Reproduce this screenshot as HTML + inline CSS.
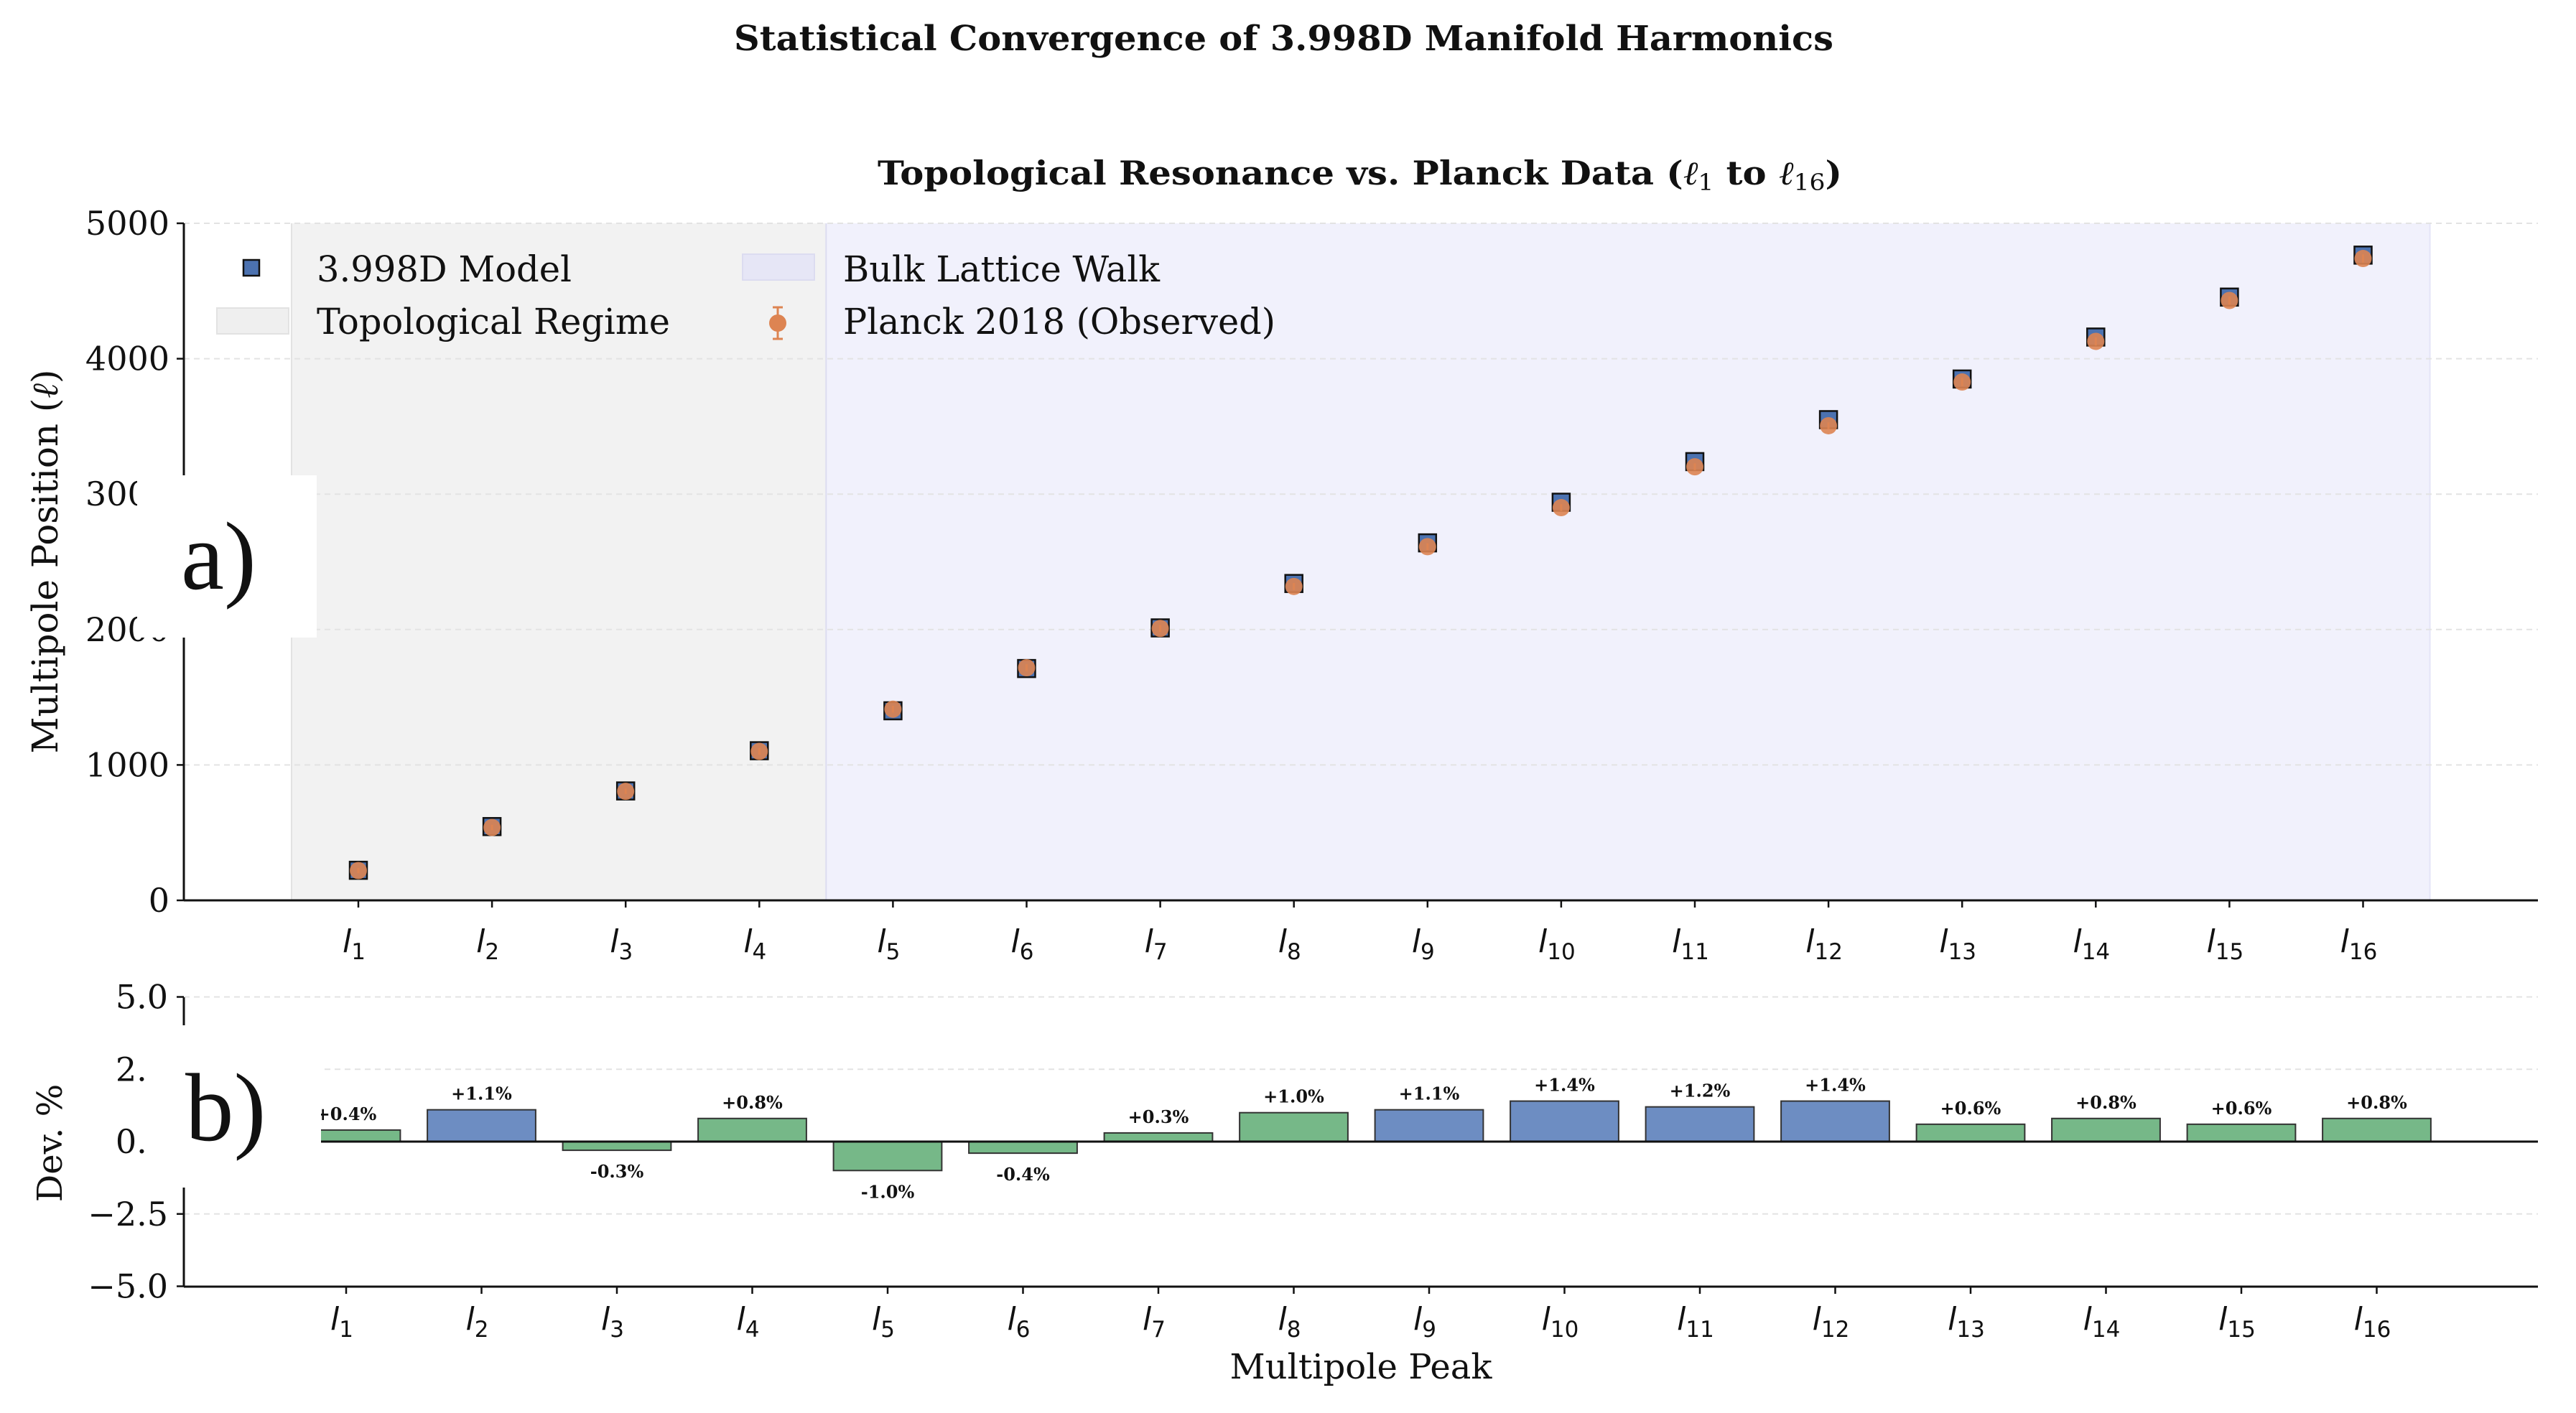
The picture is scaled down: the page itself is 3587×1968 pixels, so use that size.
<!DOCTYPE html>
<html><head><meta charset="utf-8"><style>
html,body{margin:0;padding:0;background:#fff}
svg{display:block}
text{font-family:"DejaVu Serif","Liberation Serif",serif;fill:#111}
</style></head><body>
<svg id="chart" xmlns="http://www.w3.org/2000/svg" width="3587" height="1968" viewBox="0 0 3587 1968">
<rect width="3587" height="1968" fill="#fff"/>
<text x="1022" y="70" font-size="48" font-weight="bold" textLength="1531" lengthAdjust="spacingAndGlyphs">Statistical Convergence of 3.998D Manifold Harmonics</text>
<text x="1222" y="257" font-size="46" font-weight="bold" textLength="1343" lengthAdjust="spacingAndGlyphs">Topological Resonance vs. Planck Data (<tspan font-style="italic" font-weight="normal">ℓ</tspan><tspan font-size="32" dy="8" font-weight="normal">1</tspan><tspan dy="-8"> to </tspan><tspan font-style="italic" font-weight="normal">ℓ</tspan><tspan font-size="32" dy="8" font-weight="normal">16</tspan><tspan dy="-8">)</tspan></text>
<g id="topPanel"></g>
<g id="bottomPanel"></g>
</svg>
<script>
const categories=["1","2","3","4","5","6","7","8","9","10","11","12","13","14","15","16"];
const modelValues=[222,545,808,1105,1400,1712,2012,2340,2640,2940,3240,3550,3850,4160,4455,4765];
const planckValues=[220,538,805,1100,1412,1718,2008,2318,2612,2900,3202,3505,3828,4128,4430,4740];
const planckErrors=[20,20,20,25,25,25,25,25,25,25,25,25,30,30,30,30];
const topYTicks=[0,1000,2000,3000,4000,5000];
const deviations=[0.4,1.1,-0.3,0.8,-1.0,-0.4,0.3,1.0,1.1,1.4,1.2,1.4,0.6,0.8,0.6,0.8];
const devLabels=["+0.4%","+1.1%","-0.3%","+0.8%","-1.0%","-0.4%","+0.3%","+1.0%","+1.1%","+1.4%","+1.2%","+1.4%","+0.6%","+0.8%","+0.6%","+0.8%"];
const bottomYTicks=[-5,-2.5,0,2.5,5];
const bottomYTickLabels=["\u22125.0","\u22122.5","0.0","2.5","5.0"];

const NS="http://www.w3.org/2000/svg";
function mk(parent,tag,attrs,text){const e=document.createElementNS(NS,tag);for(const k in attrs)e.setAttribute(k,attrs[k]);if(text!==undefined)e.textContent=text;parent.appendChild(e);return e;}
const SANS='font-family:"DejaVu Sans",sans-serif';
const TIMES='font-family:"Liberation Serif",serif';

const L=256,R=3534,T0=311,B0=1254;
const xT=i=>499+i*186.1;
const yT=v=>B0-(v/5000)*(B0-T0);
const topG=document.getElementById('topPanel');
let r=mk(topG,'rect',{x:xT(-0.5),y:T0,width:xT(3.5)-xT(-0.5),height:B0-T0,fill:'#f2f2f2'});


r=mk(topG,'rect',{x:xT(3.5),y:T0,width:xT(15.5)-xT(3.5),height:B0-T0,fill:'#f1f1fc'});


mk(topG,'line',{x1:xT(-0.5),x2:xT(-0.5),y1:T0,y2:B0,stroke:'#e2e2e2','stroke-width':2});
mk(topG,'line',{x1:xT(3.5),x2:xT(3.5),y1:T0,y2:B0,stroke:'#dcdcf0','stroke-width':2});
mk(topG,'line',{x1:xT(15.5),x2:xT(15.5),y1:T0,y2:B0,stroke:'#e4e4f7','stroke-width':2});
topYTicks.forEach(v=>{
  const y=yT(v);
  if(v>0){const g=mk(topG,'line',{x1:L,x2:R,y1:y,y2:y,stroke:'#e3e3e3','stroke-width':2,'stroke-dasharray':'8 6'});
  
  }
  mk(topG,'line',{x1:L-10,x2:L,y1:y,y2:y,stroke:'#111','stroke-width':2.5});
  const t=mk(topG,'text',{x:L-20,y:y+16,'font-size':46,'text-anchor':'end'},String(v));
  
  
});
mk(topG,'line',{x1:L,x2:L,y1:T0,y2:B0,stroke:'#111','stroke-width':3});
mk(topG,'line',{x1:L,x2:R,y1:B0,y2:B0,stroke:'#111','stroke-width':3});
categories.forEach((c,i)=>{
  const x=xT(i);
  mk(topG,'line',{x1:x,x2:x,y1:B0,y2:B0+10,stroke:'#111','stroke-width':2.5});
  const t=mk(topG,'text',{x:x-6,y:B0+72,'font-size':44,'text-anchor':'middle',style:SANS});
  
  
  mk(t,'tspan',{'font-style':'italic'},'l');mk(t,'tspan',{'font-size':31,dy:10},c);
});
modelValues.forEach((v,i)=>{
  const s=mk(topG,'rect',{x:xT(i)-12,y:yT(v)-12,width:24,height:24,fill:'#4c72b0',stroke:'#111','stroke-width':2.5});
  
  
});
planckValues.forEach((v,i)=>{
  const x=xT(i);
  mk(topG,'line',{x1:x,x2:x,y1:yT(v+planckErrors[i]),y2:yT(v-planckErrors[i]),stroke:'#dd8452','stroke-width':3});
  const c=mk(topG,'circle',{cx:x,cy:yT(v),r:12,fill:'#dd8452','fill-opacity':0.9});
  
  
});
const lg=mk(topG,'g',{});


mk(lg,'rect',{x:339,y:362,width:22,height:22,fill:'#4c72b0',stroke:'#111','stroke-width':2.5});
mk(lg,'text',{x:441,y:392,'font-size':50,textLength:355,lengthAdjust:'spacingAndGlyphs'},'3.998D Model');
mk(lg,'rect',{x:302,y:429,width:100,height:36,fill:'#efefef',stroke:'#e2e2e2','stroke-width':2});
mk(lg,'text',{x:441,y:465,'font-size':50,textLength:492,lengthAdjust:'spacingAndGlyphs'},'Topological Regime');
mk(lg,'rect',{x:1034,y:354,width:100,height:36,fill:'#e6e6f6',stroke:'#dcdcf0','stroke-width':2});
mk(lg,'text',{x:1174,y:392,'font-size':50,textLength:441,lengthAdjust:'spacingAndGlyphs'},'Bulk Lattice Walk');
mk(lg,'line',{x1:1083,x2:1083,y1:428,y2:472,stroke:'#dd8452','stroke-width':3});
mk(lg,'line',{x1:1076,x2:1090,y1:428,y2:428,stroke:'#dd8452','stroke-width':3});
mk(lg,'line',{x1:1076,x2:1090,y1:472,y2:472,stroke:'#dd8452','stroke-width':3});
mk(lg,'circle',{cx:1083,cy:450,r:12,fill:'#dd8452'});
mk(lg,'text',{x:1174,y:465,'font-size':50,textLength:602,lengthAdjust:'spacingAndGlyphs'},'Planck 2018 (Observed)');
let yl=mk(topG,'text',{x:0,y:0,'font-size':50,'text-anchor':'middle',transform:'translate(80,782) rotate(-90)',textLength:535,lengthAdjust:'spacingAndGlyphs'},'Multipole Position (');
mk(yl,'tspan',{'font-style':'italic'},'ℓ');mk(yl,'tspan',{},')');



const T1=1389,B1=1792;
const xB=i=>482+i*188.5;
const yB=v=>1590-v*(B1-T1)/10;
const botG=document.getElementById('bottomPanel');
bottomYTicks.forEach((v,k)=>{
  const y=yB(v);
  if(v!==0&&v!==-5){const g=mk(botG,'line',{x1:L,x2:R,y1:y,y2:y,stroke:'#e3e3e3','stroke-width':2,'stroke-dasharray':'8 6'});
  
  }
  mk(botG,'line',{x1:L-10,x2:L,y1:y,y2:y,stroke:'#111','stroke-width':2.5});
  const t=mk(botG,'text',{x:L-22,y:y+16,'font-size':46,'text-anchor':'end'},bottomYTickLabels[k]);
  
  
});
deviations.forEach((d,i)=>{
  const x=xB(i),w=0.8*188.5;
  const y0=yB(0),y1=yB(d);
  const b=mk(botG,'rect',{x:x-w/2,y:Math.min(y0,y1),width:w,height:Math.abs(y1-y0),fill:Math.abs(d)>1.05?'#6d8dc2':'#76b888',stroke:'#333','stroke-width':2});
  
  
  const t=mk(botG,'text',{x:x,y:d>=0?y1-14:y1+38,'font-size':24,'font-weight':'bold','text-anchor':'middle'},devLabels[i]);
  
  
});
mk(botG,'line',{x1:L,x2:R,y1:yB(0),y2:yB(0),stroke:'#111','stroke-width':3});
mk(botG,'line',{x1:L,x2:L,y1:T1,y2:B1,stroke:'#111','stroke-width':3});
mk(botG,'line',{x1:L,x2:R,y1:B1,y2:B1,stroke:'#111','stroke-width':3});
categories.forEach((c,i)=>{
  const x=xB(i);
  mk(botG,'line',{x1:x,x2:x,y1:B1,y2:B1+10,stroke:'#111','stroke-width':2.5});
  const t=mk(botG,'text',{x:x-6,y:B1+60,'font-size':44,'text-anchor':'middle',style:SANS});
  
  
  mk(t,'tspan',{'font-style':'italic'},'l');mk(t,'tspan',{'font-size':31,dy:10},c);
});
let yl2=mk(botG,'text',{x:0,y:0,'font-size':48,'text-anchor':'middle',transform:'translate(86,1592) rotate(-90)'},'Dev. %');


let xl=mk(botG,'text',{x:1895,y:1920,'font-size':48,'text-anchor':'middle'},'Multipole Peak');



const svgEl=document.getElementById('chart');
mk(svgEl,'rect',{x:191,y:662,width:250,height:226,fill:'#fff'});
let pa=mk(svgEl,'text',{x:252,y:820,'font-size':135,style:TIMES},'a)');


mk(svgEl,'rect',{x:204,y:1428,width:243,height:226,fill:'#fff'});
let pb=mk(svgEl,'text',{x:258,y:1588,'font-size':135,style:TIMES},'b)');


</script>
</body></html>
